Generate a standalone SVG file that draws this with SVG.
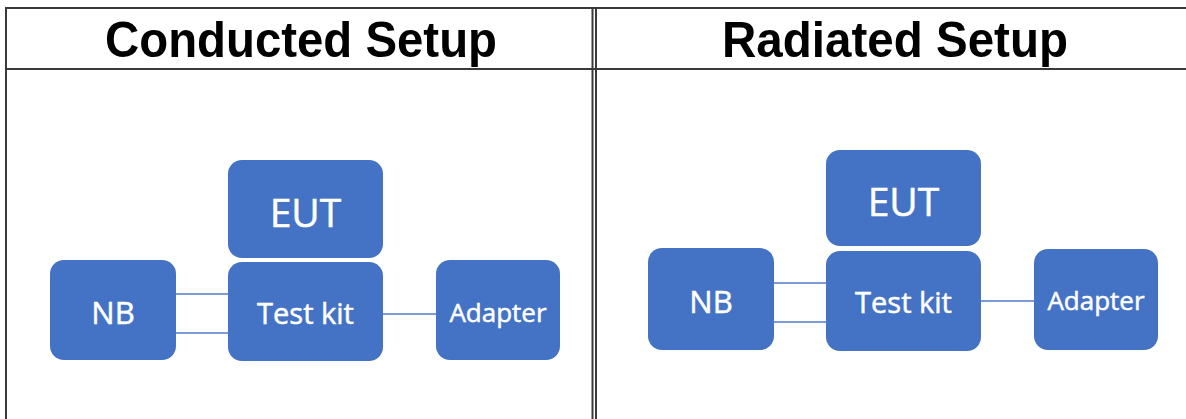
<svg xmlns="http://www.w3.org/2000/svg" width="1186" height="419" viewBox="0 0 1186 419">
<style>
.box{fill:#4472C4;}
.lbl{fill:#ffffff;stroke:#ffffff;stroke-width:0.5;font-family:"Open Sans","Noto Sans",sans-serif;text-anchor:middle;dominant-baseline:central;}
.title{fill:#000;font-family:"Liberation Sans",Arial,sans-serif;font-weight:bold;font-size:50px;text-anchor:middle;}
.rule{stroke:#3a3a3a;stroke-width:2;fill:none;}
.conn{stroke:#7C9BD8;stroke-width:2;fill:none;}
</style>
<rect width="1186" height="419" fill="#ffffff"/>
<g id="frame">
<line class="rule" x1="5" y1="8" x2="1186" y2="8"/>
<line class="rule" x1="5" y1="69" x2="1186" y2="69"/>
<line class="rule" x1="6" y1="7" x2="6" y2="419"/>
<line class="rule" x1="592.5" y1="7" x2="592.5" y2="419"/>
<line class="rule" x1="596" y1="7" x2="596" y2="419"/>
</g>
<g id="titles">
<text class="title" x="301" y="57" textLength="392" lengthAdjust="spacingAndGlyphs">Conducted Setup</text>
<text class="title" x="895" y="57" textLength="346" lengthAdjust="spacingAndGlyphs">Radiated Setup</text>
</g>
<g id="connectors">
<line class="conn" x1="176" y1="294" x2="230" y2="294"/>
<line class="conn" x1="176" y1="333" x2="230" y2="333"/>
<line class="conn" x1="382" y1="314" x2="437" y2="314"/>
<line class="conn" x1="774" y1="283" x2="827" y2="283"/>
<line class="conn" x1="774" y1="322" x2="827" y2="322"/>
<line class="conn" x1="980" y1="301" x2="1035" y2="301"/>
</g>
<g id="c-eut"><rect class="box" x="228" y="160" width="155" height="98" rx="14"/><text class="lbl" x="305.5" y="211" font-size="39">EUT</text></g>
<g id="c-testkit"><rect class="box" x="228" y="262" width="155" height="99" rx="14"/><text class="lbl" x="305.5" y="312" font-size="29">Test kit</text></g>
<g id="c-nb"><rect class="box" x="50" y="260" width="126" height="100" rx="14"/><text class="lbl" x="113" y="312" font-size="31">NB</text></g>
<g id="c-adapter"><rect class="box" x="436" y="260" width="124" height="100" rx="14"/><text class="lbl" x="498" y="312" font-size="26">Adapter</text></g>
<g id="r-eut"><rect class="box" x="826" y="150" width="155" height="96" rx="14"/><text class="lbl" x="903.5" y="200" font-size="39">EUT</text></g>
<g id="r-testkit"><rect class="box" x="826" y="251" width="155" height="100" rx="14"/><text class="lbl" x="903.5" y="301" font-size="29">Test kit</text></g>
<g id="r-nb"><rect class="box" x="648" y="248" width="126" height="102" rx="14"/><text class="lbl" x="711" y="301" font-size="31">NB</text></g>
<g id="r-adapter"><rect class="box" x="1034" y="249" width="124" height="101" rx="14"/><text class="lbl" x="1096" y="300" font-size="26">Adapter</text></g>
</svg>
